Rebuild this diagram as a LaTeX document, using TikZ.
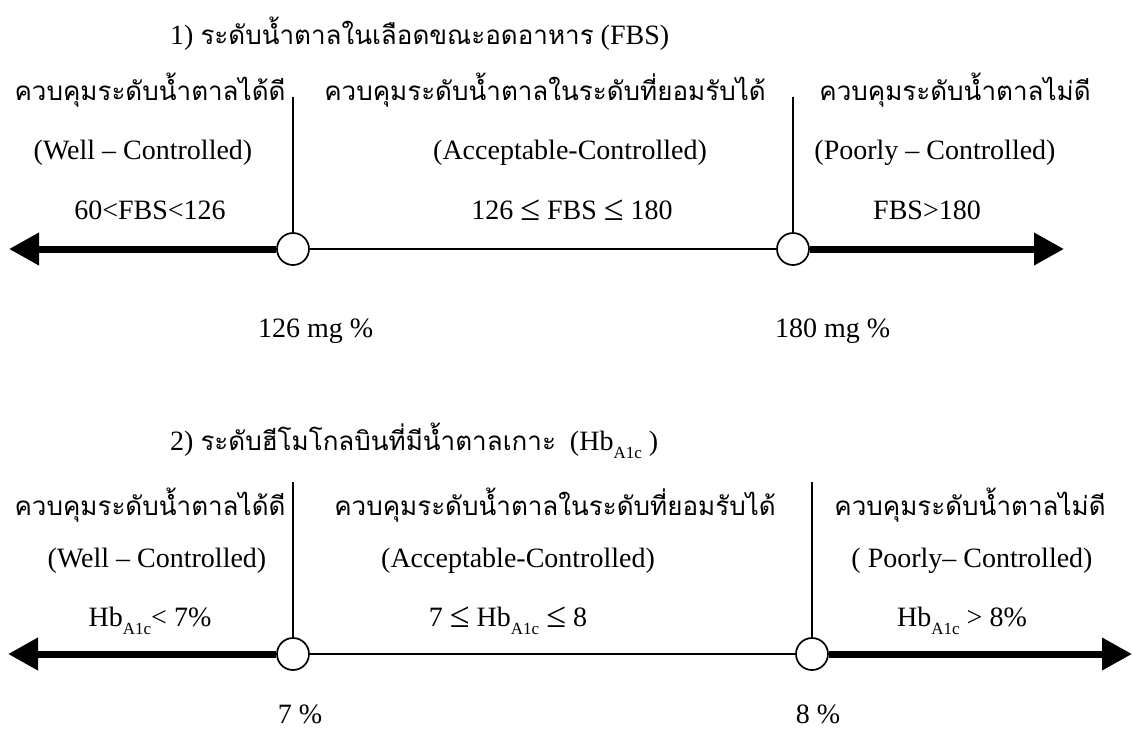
\documentclass[tikz,border=0pt]{standalone}
\usepackage{fontspec}
\setmainfont{Liberation Serif}
\newfontfamily\thaifont[Script=Thai]{Loma}
\usetikzlibrary{arrows.meta}
\newcommand\tf{\thaifont\fontsize{26}{30}\selectfont}
\newcommand\hbsub{Hb\raisebox{-8pt}{\fontsize{17}{17}\selectfont A1c}}
\newcommand\bigle{\raisebox{-1pt}{\fontsize{36}{36}\selectfont ≤}}
\begin{document}
\begin{tikzpicture}[x=1pt,y=-1pt,
  font=\fontsize{28}{32}\selectfont,
  lbl/.style={anchor=base, inner sep=0pt},
  ptnode/.style={circle, draw, line width=1.7pt, fill=white, minimum size=32pt, inner sep=0pt},
  thinline/.style={line width=1.2pt},
  boldarrow/.style={line width=7pt, -{Triangle[length=30pt,width=31pt]}},
  ]
\useasboundingbox (0,0) rectangle (1133,729);

% ---------- Panel 1 ----------
\node[lbl, anchor=base west] (t1) at (170,44) {1) {\tf ระดับน้ำตาลในเลือดขณะอดอาหาร} (FBS)};
\node[lbl] (a1) at (150,100) {\tf ควบคุมระดับน้ำตาลได้ดี};
\node[lbl] (a2) at (545,100) {\tf ควบคุมระดับน้ำตาลในระดับที่ยอมรับได้};
\node[lbl] (a3) at (955,100) {\tf ควบคุมระดับน้ำตาลไม่ดี};
\node[lbl] (b1) at (143,159) {(Well – Controlled)};
\node[lbl] (b2) at (570,159) {(Acceptable-Controlled)};
\node[lbl] (b3) at (935,159) {(Poorly – Controlled)};
\node[lbl] (d1) at (150,219) {60<FBS<126};
\node[lbl] (d2) at (572,219) {126 \bigle\ FBS \bigle\ 180};
\node[lbl] (d3) at (927,219) {FBS>180};

\coordinate (l1) at (9,249);
\coordinate (r1) at (1064,249);
\coordinate (v1) at (293,97);
\coordinate (v2) at (793,97);
\node[ptnode] (c1) at (293,249) {};
\node[ptnode] (c2) at (793,249) {};
\draw[boldarrow] (c1.west) -- (l1);
\draw[boldarrow] (c2.east) -- (r1);
\draw[thinline] (c1.east) -- (c2.west);
\draw[thinline] (c1.north) -- (v1);
\draw[thinline] (c2.north) -- (v2);
\node[lbl, anchor=base west] (m1) at (258,337) {126 mg \%};
\node[lbl, anchor=base west] (m2) at (775,337) {180 mg \%};

% ---------- Panel 2 ----------
\node[lbl, anchor=base west] (t2) at (170,450) {2) {\tf ระดับฮีโมโกลบินที่มีน้ำตาลเกาะ}\ \ (\hbsub\ )};
\node[lbl] (e1) at (150,515) {\tf ควบคุมระดับน้ำตาลได้ดี};
\node[lbl] (e2) at (555,515) {\tf ควบคุมระดับน้ำตาลในระดับที่ยอมรับได้};
\node[lbl] (e3) at (970,515) {\tf ควบคุมระดับน้ำตาลไม่ดี};
\node[lbl] (f1) at (157,567) {(Well – Controlled)};
\node[lbl] (f2) at (518,567) {(Acceptable-Controlled)};
\node[lbl] (f3) at (972,567) {( Poorly– Controlled)};
\node[lbl] (g1) at (150,626) {\hbsub< 7\%};
\node[lbl] (g2) at (508,626) {7 \bigle\ \hbsub\ \bigle\ 8};
\node[lbl] (g3) at (962,626) {\hbsub\ > 8\%};

\coordinate (l2) at (8,654);
\coordinate (r2) at (1132,654);
\coordinate (w1) at (293,482);
\coordinate (w2) at (812,482);
\node[ptnode] (k1) at (293,654) {};
\node[ptnode] (k2) at (812,654) {};
\draw[boldarrow] (k1.west) -- (l2);
\draw[boldarrow] (k2.east) -- (r2);
\draw[thinline] (k1.east) -- (k2.west);
\draw[thinline] (k1.north) -- (w1);
\draw[thinline] (k2.north) -- (w2);
\node[lbl] (p1) at (300,723) {7 \%};
\node[lbl] (p2) at (818,723) {8 \%};
\end{tikzpicture}
\end{document}
